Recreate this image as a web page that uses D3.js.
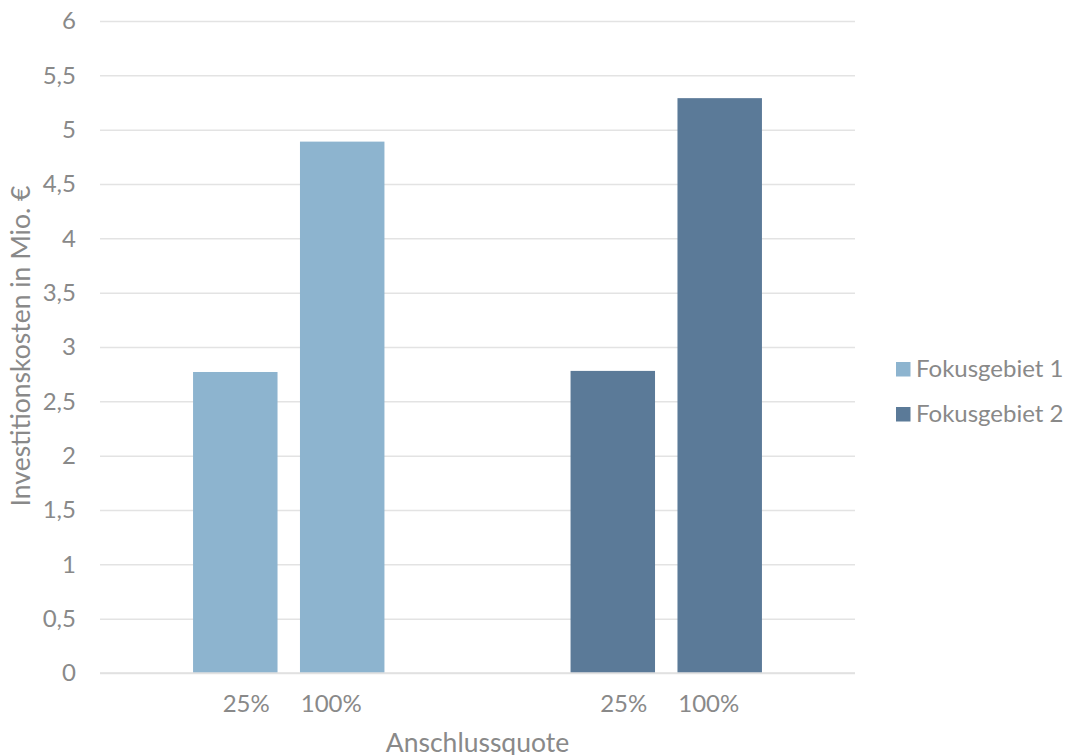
<!DOCTYPE html>
<html><head><meta charset="utf-8">
<script src="https://cdn.jsdelivr.net/npm/d3@7"></script>
<style>body{margin:0;background:#fff}svg{display:block}text{font-family:Lato,"Open Sans",sans-serif;fill:#898989}</style>
</head><body>
<svg id="c" width="1067" height="755"></svg>
<script>
const groups = ["Fokusgebiet 1", "Fokusgebiet 2"];
const quotes = ["25%", "100%"];
const values1 = [2.77, 4.89];
const values2 = [2.78, 5.29];
const yTicks = [0, 0.5, 1, 1.5, 2, 2.5, 3, 3.5, 4, 4.5, 5, 5.5, 6];
const colors = ["#8DB4CF", "#5B7A98"];
const xTitle = "Anschlussquote";
const yTitle = "Investitionskosten in Mio. €";

const data = groups.map((g, i) => ({group: g, values: quotes.map((q, j) => ({q, v: [values1, values2][i][j]}))}));

const svg = d3.select("#c");
const L = 100, R = 855, T = 21, B = 673;
const x0 = d3.scaleBand().domain(groups).range([L, R]);
const gw = x0.bandwidth();
const x1 = d3.scaleBand().domain(quotes).range([gw*0.2465, gw*0.7535]).paddingInner(0.21);
const xl = d3.scalePoint().domain(quotes).range([gw/2 - 42.5, gw/2 + 42.5]);
const y = d3.scaleLinear().domain([0, 6]).range([B, T]);
const fmt = d => String(d).replace(".", ",");

// grid
const yAxis = d3.axisLeft(y).tickValues(yTicks).tickSize(-(R - L)).tickFormat(fmt).tickPadding(24);
const ga = svg.append("g").attr("transform", `translate(${L},0)`).call(yAxis);
ga.select(".domain").remove();
ga.selectAll(".tick line").attr("stroke", "#e3e3e3").attr("stroke-width", 1.5);
ga.selectAll(".tick text").attr("font-size", 24).style("fill", "#898989").attr("font-family", "Lato");

// bars
const gg = svg.selectAll(".grp").data(data).join("g").attr("transform", d => `translate(${x0(d.group)},0)`);
gg.each(function(d, i) {
  d3.select(this).selectAll("rect").data(d.values).join("rect")
    .attr("x", e => x1(e.q)).attr("width", x1.bandwidth())
    .attr("y", e => y(e.v)).attr("height", e => y(0) - y(e.v))
    .attr("fill", colors[i]);
  d3.select(this).selectAll("text").data(d.values).join("text")
    .attr("x", e => xl(e.q)).attr("y", 712).attr("text-anchor", "middle")
    .attr("font-size", 24).text(e => e.q);
});

// baseline
svg.append("line").attr("x1", L).attr("x2", R).attr("y1", y(0)).attr("y2", y(0)).attr("stroke", "#e0e0e0").attr("stroke-width", 1.5);

// titles
svg.append("text").attr("x", (L + R) / 2).attr("y", 751.5).attr("text-anchor", "middle").attr("font-size", 26.5).text(xTitle);
svg.append("text").attr("transform", "translate(30,346) rotate(-90)").attr("text-anchor", "middle").attr("font-size", 26.5).text(yTitle);

// legend
const lg = svg.append("g").selectAll("g").data(groups).join("g").attr("transform", (d, i) => `translate(896,${369 + i * 45})`);
lg.append("rect").attr("x", 0).attr("y", -7).attr("width", 14.5).attr("height", 14.5).attr("fill", (d, i) => colors[i]);
lg.append("text").attr("x", 20).attr("y", 7.5).attr("font-size", 24).text(d => d);
</script>
</body></html>
